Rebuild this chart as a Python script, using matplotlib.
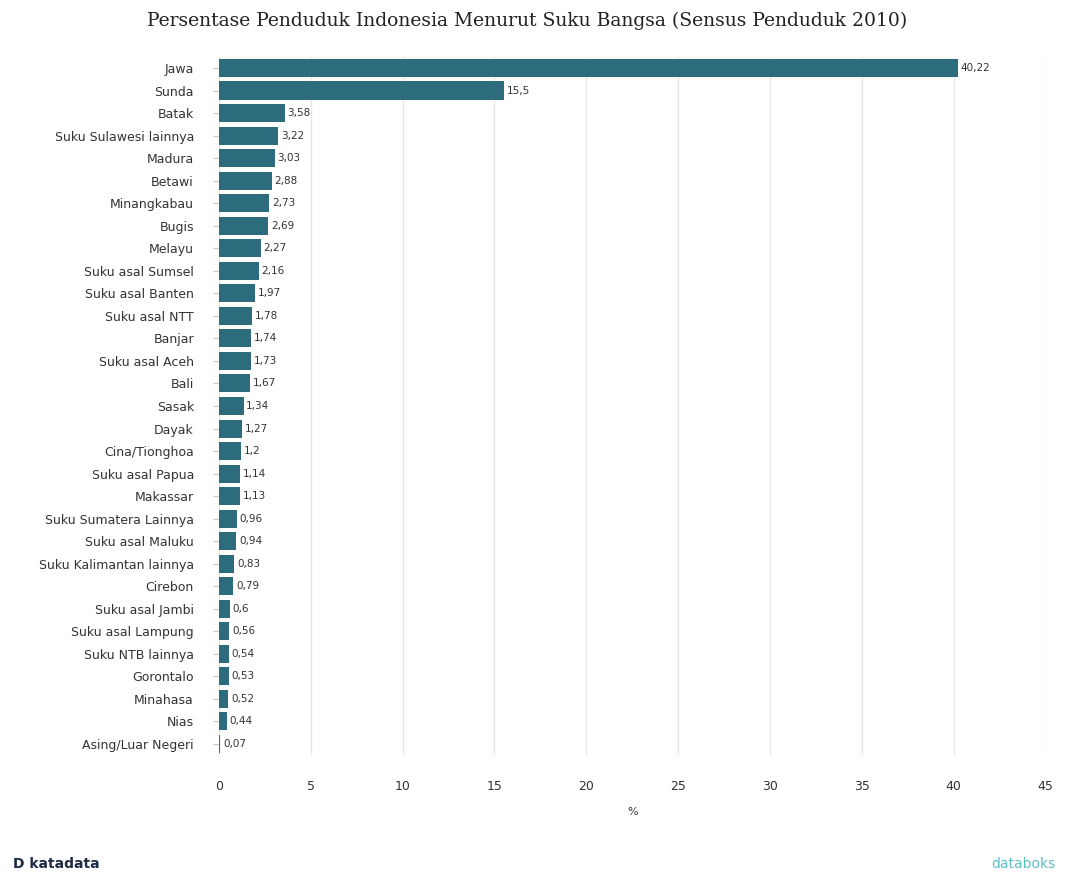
import numpy as np
import matplotlib.pyplot as plt

# data: Sensus Penduduk 2010, persen
sukuBangsa = ["Jawa", "Sunda", "Batak", "Suku Sulawesi lainnya", "Madura", "Betawi",
              "Minangkabau", "Bugis", "Melayu", "Suku asal Sumsel", "Suku asal Banten",
              "Suku asal NTT", "Banjar", "Suku asal Aceh", "Bali", "Sasak", "Dayak",
              "Cina/Tionghoa", "Suku asal Papua", "Makassar", "Suku Sumatera Lainnya",
              "Suku asal Maluku", "Suku Kalimantan lainnya", "Cirebon", "Suku asal Jambi",
              "Suku asal Lampung", "Suku NTB lainnya", "Gorontalo", "Minahasa", "Nias",
              "Asing/Luar Negeri"]
persen = [40.22, 15.5, 3.58, 3.22, 3.03, 2.88, 2.73, 2.69, 2.27, 2.16, 1.97,
          1.78, 1.74, 1.73, 1.67, 1.34, 1.27, 1.2, 1.14, 1.13, 0.96,
          0.94, 0.83, 0.79, 0.6, 0.56, 0.54, 0.53, 0.52, 0.44, 0.07]
xTicks = [0, 5, 10, 15, 20, 25, 30, 35, 40, 45]

barColor = "#2d6c7c"

fig = plt.figure(figsize=(10.68, 8.82), dpi=100)
ax = fig.add_axes([0.205, 0.1437, 0.774, 0.792])

y = np.arange(len(sukuBangsa))
ax.barh(y, persen, height=0.8, color=barColor, zorder=3)

# value labels, decimal comma like the original
for yi, val in zip(y, persen):
    txt = ("%g" % val).replace(".", ",")
    ax.text(val + 0.15, yi, txt, va="center", ha="left", fontsize=7.5, color="#333333", zorder=4)

ax.set_ylim(len(sukuBangsa) - 0.5, -0.5)
ax.set_xlim(0, 45)
ax.set_yticks(y)
ax.set_yticklabels(sukuBangsa, fontsize=9, color="#333333")
ax.set_xticks(xTicks)
ax.set_xticklabels([str(t) for t in xTicks], fontsize=9, color="#333333")
ax.tick_params(axis="y", length=4, color="#c8c8c8", pad=14)
ax.tick_params(axis="x", length=0, pad=18)
ax.xaxis.grid(True, color="#e6e6e6", linewidth=1, zorder=0)
ax.set_axisbelow(True)
for s in ax.spines.values():
    s.set_visible(False)
ax.set_xlabel("%", fontsize=8, color="#333333", labelpad=10)

fig.text(0.494, 0.976, "Persentase Penduduk Indonesia Menurut Suku Bangsa (Sensus Penduduk 2010)",
         ha="center", va="center", fontsize=13.5, family="DejaVu Serif", color="#222222")

# footer branding
fig.text(0.012, 0.012, "D katadata", ha="left", va="bottom", fontsize=10, fontweight="bold", color="#1f2a44")
fig.text(0.988, 0.012, "databoks", ha="right", va="bottom", fontsize=10, color="#5bbfc9")

fig.savefig("out.png", dpi=100)
